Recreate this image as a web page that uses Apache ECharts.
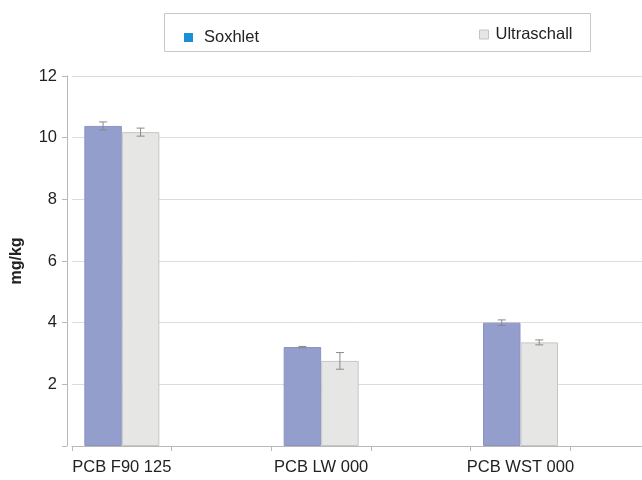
<!DOCTYPE html>
<html><head><meta charset="utf-8">
<script src="https://cdn.jsdelivr.net/npm/echarts@6/dist/echarts.min.js"></script>
<style>html,body{margin:0;padding:0;background:#fff}#c{width:642px;height:480px}</style>
</head><body><div id="c"></div>
<script>
var categories = ['PCB F90 125', ' ', 'PCB LW 000', '  ', 'PCB WST 000', '   '];
var soxhlet = [10.38, null, 3.21, null, 4.0, null];
var soxhletErr = [0.13, null, 0.02, null, 0.09, null];
var ultraschall = [10.18, null, 2.76, null, 3.36, null];
var ultraschallErr = [0.13, null, 0.27, null, 0.08, null];
var yTicks = [0, 2, 4, 6, 8, 10, 12];

var BAR_W = 37.5;
var FONT = 'Liberation Sans, Arial, sans-serif';

function errSeries(vals, errs, offset) {
  var d = [];
  vals.forEach(function (v, i) { if (v != null) d.push([i, v - errs[i], v + errs[i]]); });
  return {
    type: 'custom', z: 5, silent: true,
    data: d,
    renderItem: function (params, api) {
      var lo = api.coord([api.value(0), api.value(1)]);
      var hi = api.coord([api.value(0), api.value(2)]);
      var x = lo[0] + offset;
      var cw = 4;
      var st = { stroke: '#8a8a8a', lineWidth: 1 };
      return { type: 'group', children: [
        { type: 'line', shape: { x1: x, y1: lo[1], x2: x, y2: hi[1] }, style: st },
        { type: 'line', shape: { x1: x - cw, y1: lo[1], x2: x + cw, y2: lo[1] }, style: st },
        { type: 'line', shape: { x1: x - cw, y1: hi[1], x2: x + cw, y2: hi[1] }, style: st }
      ]};
    }
  };
}

var chart = echarts.init(document.getElementById('c'));
chart.setOption({
  backgroundColor: '#fff',
  animation: false,
  textStyle: { fontFamily: FONT },
  graphic: [{
    type: 'rect', left: 164, top: 13, z: -1,
    shape: { width: 426, height: 38 },
    style: { fill: '#fff', stroke: '#c8c8c8', lineWidth: 1 }
  }],
  legend: [
    { data: [{ name: 'Soxhlet', itemStyle: { color: '#1a8fd8', borderWidth: 0 } }],
      left: 179, top: 24, icon: 'rect', itemWidth: 9, itemHeight: 9, itemGap: 8,
      textStyle: { fontSize: 16.5, color: '#222', fontFamily: FONT, padding: [0, 0, 0, 6] } },
    { data: [{ name: 'Ultraschall', itemStyle: { color: '#e6e6e4', borderColor: '#c4c4c4', borderWidth: 1 } }],
      left: 474, top: 21, icon: 'rect', itemWidth: 9, itemHeight: 9, itemGap: 8,
      textStyle: { fontSize: 16.5, color: '#222', fontFamily: FONT, padding: [0, 0, 0, 2] } }
  ],
  grid: { left: 72, right: -28, top: 76, bottom: 34, outerBoundsMode: 'none', containLabel: false },
  xAxis: {
    type: 'category', data: categories, boundaryGap: true,
    axisLine: { lineStyle: { color: '#b8b8b8' } },
    axisTick: { show: true, length: 5, lineStyle: { color: '#b8b8b8' } },
    axisLabel: { interval: 0, fontSize: 16.5, color: '#222', margin: 13, fontFamily: FONT }
  },
  yAxis: {
    type: 'value', min: yTicks[0], max: yTicks[yTicks.length - 1], interval: 2, offset: 5,
    name: 'mg/kg', nameLocation: 'middle', nameGap: 42, nameRotate: 90,
    nameTextStyle: { fontSize: 16, fontWeight: 'bold', color: '#222', fontFamily: FONT },
    axisLine: { show: true, lineStyle: { color: '#b8b8b8' } },
    axisTick: { show: true, length: 5, lineStyle: { color: '#b8b8b8' } },
    splitLine: { lineStyle: { color: '#dcdcdc' } },
    axisLabel: { fontSize: 16.5, color: '#222', margin: 10, fontFamily: FONT,
      formatter: function (v) { return v === 0 ? '' : String(v); } }
  },
  series: [
    { name: 'Soxhlet', type: 'bar', data: soxhlet, barWidth: BAR_W, barGap: '0%',
      itemStyle: { color: '#949ecd', borderColor: '#8a93c2', borderWidth: 1 } },
    { name: 'Ultraschall', type: 'bar', data: ultraschall, barWidth: BAR_W, barGap: '0%',
      itemStyle: { color: '#e6e6e4', borderColor: '#c6c6c6', borderWidth: 1 } },
    errSeries(soxhlet, soxhletErr, -BAR_W / 2),
    errSeries(ultraschall, ultraschallErr, BAR_W / 2)
  ]
});
</script></body></html>
